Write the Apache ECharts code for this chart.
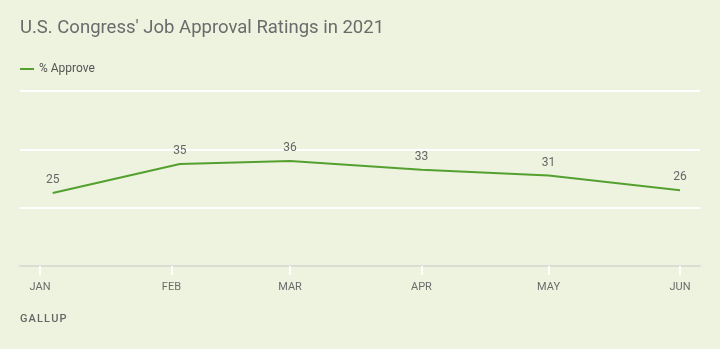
<!DOCTYPE html>
<html>
<head>
<meta charset="utf-8">
<script src="https://cdn.jsdelivr.net/npm/echarts@6/dist/echarts.min.js"></script>
<style>
  html, body { margin: 0; padding: 0; background: #EDF3DF; }
  #chart { width: 720px; height: 349px; }
</style>
</head>
<body>
<div id="chart"></div>
<script>
// Poll dates (field start) and approval share
const pollDates = ['2021-01-04', '2021-02-03', '2021-03-01', '2021-04-01', '2021-05-01', '2021-06-01'];
const approve = [25, 35, 36, 33, 31, 26];
const monthTicks = ['2021-01-01', '2021-02-01', '2021-03-01', '2021-04-01', '2021-05-01', '2021-06-01'];
const monthNames = ['JAN', 'FEB', 'MAR', 'APR', 'MAY', 'JUN', 'JUL', 'AUG', 'SEP', 'OCT', 'NOV', 'DEC'];
const yTicks = [0, 20, 40, 60];

// x positions are days since Jan 1 2021
const DAY = 86400000;
const T0 = Date.parse('2021-01-01T00:00:00Z');
const dayOf = s => (Date.parse(s + 'T00:00:00Z') - T0) / DAY;
const tickDays = monthTicks.map(dayOf);
const xMin = dayOf('2021-01-01') - 4.72;
const xMax = dayOf('2021-06-01') + 4.72;

const FONT = 'Roboto, "Noto Sans", sans-serif';

const chart = echarts.init(document.getElementById('chart'), null, { renderer: 'canvas' });
chart.setOption({
  backgroundColor: '#EDF3DF',
  animation: false,
  title: {
    text: "U.S. Congress' Job Approval Ratings in 2021",
    left: 15, top: 14,
    textStyle: { fontFamily: FONT, fontSize: 18.5, fontWeight: 'normal', color: '#6b6b6b' }
  },
  legend: {
    left: 15, top: 58,
    itemWidth: 14, itemHeight: 2, itemGap: 10,
    icon: 'rect',
    textStyle: { fontFamily: FONT, fontSize: 12, color: '#555' },
    data: ['% Approve']
  },
  graphic: [{
    type: 'text', left: 20, top: 314,
    style: { text: 'GALLUP'.split('').join('\u200A'), fontFamily: FONT, fontSize: 11, fill: '#666', fontWeight: 500 }
  }],
  grid: { left: 20, right: 20, top: 91, bottom: 83 },
  xAxis: {
    type: 'value',
    min: xMin, max: xMax,
    axisLine: { show: true, lineStyle: { color: '#dcdcd4', width: 2 } },
    axisTick: { show: true, customValues: tickDays, length: 9, lineStyle: { color: '#ffffff', width: 2 } },
    axisLabel: {
      customValues: tickDays,
      margin: 16,
      fontFamily: FONT, fontSize: 11, color: '#6b6b6b',
      formatter: v => monthNames[new Date(T0 + v * DAY).getUTCMonth()]
    },
    splitLine: { show: false }
  },
  yAxis: {
    type: 'value',
    min: yTicks[0], max: yTicks[yTicks.length - 1], interval: 20,
    axisLine: { show: false },
    axisTick: { show: false },
    axisLabel: { show: false },
    splitLine: { show: true, lineStyle: { color: '#ffffff', width: 2 } }
  },
  series: [{
    name: '% Approve',
    type: 'line',
    data: pollDates.map((d, i) => [dayOf(d), approve[i]]),
    showSymbol: true,
    symbol: 'circle',
    symbolSize: 0.1,
    lineStyle: { color: '#54a02f', width: 2 },
    itemStyle: { color: '#54a02f' },
    label: {
      show: true, position: 'top', distance: 7,
      fontFamily: FONT, fontSize: 12, color: '#666',
      formatter: p => p.value[1]
    }
  }]
});
</script>
</body>
</html>
